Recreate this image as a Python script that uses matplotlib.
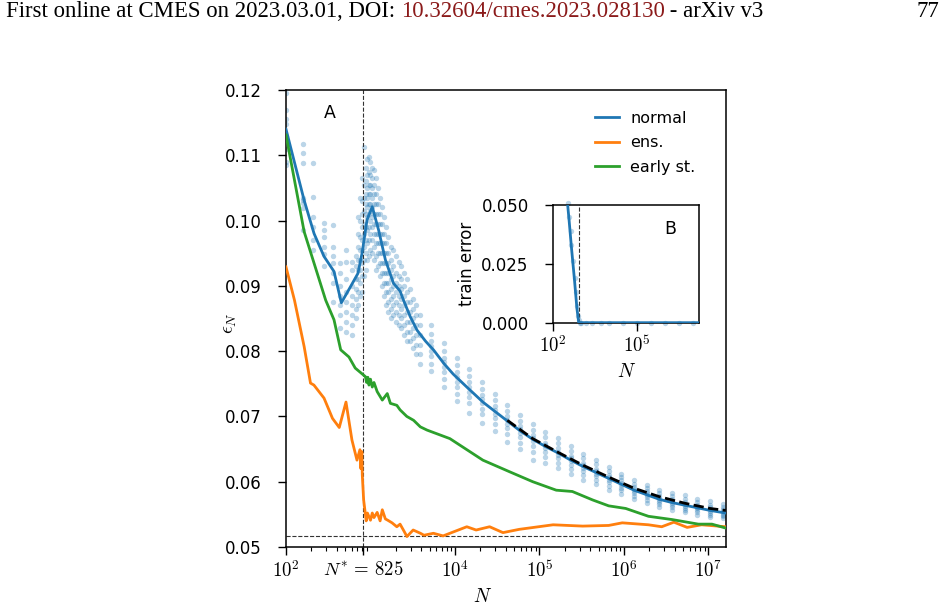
import numpy as np
import matplotlib
matplotlib.use("Agg")
import matplotlib.pyplot as plt
import matplotlib.ticker as mticker

plt.rcParams.update({
    "font.family": "DejaVu Sans",
    "mathtext.fontset": "cm",
    "font.size": 12,
    "axes.linewidth": 1.1,
    "xtick.major.size": 5.5,
    "ytick.major.size": 5.5,
    "xtick.minor.size": 3.2,
    "xtick.major.width": 1.0,
    "ytick.major.width": 1.0,
    "xtick.minor.width": 0.8,
    "xtick.labelsize": 13.5,
    "ytick.labelsize": 12,
})

# ---- data ----
n_star = 825
eps_floor = 0.0517

normal_N = [100, 164, 215, 282, 370, 452, 582, 710, 795, 910, 1050, 1250, 1500,
            1870, 2240, 2460, 2950, 3560, 4500, 5560, 7400, 9500, 13800, 21400,
            29500, 41700, 58900, 83200, 117500, 166000, 234400, 331100, 467700,
            660700, 933300, 1318000, 1862000, 2630000, 3715000, 5248000,
            7413000, 10470000, 16000000]
normal_eps = [0.1140, 0.1031, 0.0980, 0.0945, 0.0922, 0.0874, 0.0899, 0.0919,
              0.0950, 0.1001, 0.1021, 0.0985, 0.0940, 0.0904, 0.0892, 0.0878,
              0.0853, 0.0832, 0.0815, 0.0802, 0.0781, 0.0765, 0.0745, 0.0722,
              0.0708, 0.0693, 0.0678, 0.0665, 0.0654, 0.0644, 0.0633, 0.0623,
              0.0614, 0.0605, 0.0596, 0.0587, 0.0580, 0.0573, 0.0568, 0.0564,
              0.0560, 0.0556, 0.0552]

fit_N = [41700, 83200, 166000, 331100, 660700, 1318000, 2630000, 5248000,
         10470000, 16000000]
fit_eps = [0.0694, 0.0666, 0.0645, 0.0625, 0.0607, 0.0590, 0.0577, 0.0567,
           0.0559, 0.0556]

ens_N = [100, 126, 164, 195, 214, 282, 355, 427, 513, 603, 692, 750, 770, 790,
         800, 830, 890, 920, 1000, 1050, 1100, 1200, 1300, 1380, 1500, 1600,
         1800, 2050, 2240, 2500, 2700, 3200, 3900, 4300, 5560, 7240, 13800,
         17800, 25700, 37000, 57500, 145000, 324000, 660000, 955000, 1950000,
         2800000, 3900000, 5600000, 8300000, 16000000]
ens_eps = [0.0929, 0.0878, 0.0807, 0.0751, 0.0748, 0.0728, 0.0697, 0.0683,
           0.0722, 0.0664, 0.0633, 0.0649, 0.0620, 0.0646, 0.0610, 0.0572,
           0.0540, 0.0552, 0.0541, 0.0552, 0.0545, 0.0553, 0.0540, 0.0557,
           0.0543, 0.0541, 0.0537, 0.0531, 0.0535, 0.0524, 0.0516, 0.0526,
           0.0521, 0.0518, 0.0521, 0.0517, 0.0531, 0.0526, 0.0531, 0.0522,
           0.0527, 0.0534, 0.0532, 0.0533, 0.0537, 0.0534, 0.0531, 0.0538,
           0.0530, 0.0534, 0.0531]

early_N = [100, 164, 295, 370, 444, 556, 660, 870, 900, 930, 960, 1000, 1050,
           1100, 1200, 1380, 1580, 1720, 2050, 2240, 2690, 3240, 3890, 4680,
           8700, 21400, 44700, 83200, 158000, 245000, 427000, 660000, 1050000,
           1950000, 3720000, 7600000, 11000000, 16000000]
early_eps = [0.1131, 0.0983, 0.0878, 0.0848, 0.0802, 0.0791, 0.0774, 0.0761,
             0.0752, 0.0760, 0.0748, 0.0757, 0.0745, 0.0752, 0.0738, 0.0725,
             0.0735, 0.0720, 0.0717, 0.0710, 0.0700, 0.0694, 0.0684, 0.0679,
             0.0666, 0.0633, 0.0615, 0.0600, 0.0587, 0.0585, 0.0572, 0.0563,
             0.0559, 0.0547, 0.0542, 0.0535, 0.0535, 0.0529]

# individual runs (blue dots), one column per N
runs_N = [100, 160, 210, 280, 360, 440, 520, 600, 680, 720, 760, 800, 840, 880,
          920, 960, 1000, 1050, 1100, 1160, 1220, 1290, 1360, 1440, 1530, 1630,
          1740, 1860, 2000, 2150, 2320, 2500, 2700, 2950, 3200, 3500, 3850,
          5250, 7400, 10500, 14800, 20900, 29500, 41700, 58900, 83200, 117500,
          166000, 234400, 331100, 467700, 660700, 933300, 1318000, 1862000,
          2630000, 3715000, 5248000, 7413000, 10470000, 14790000]
runs_eps = [
    [0.1195, 0.1170, 0.1155, 0.1148, 0.1130, 0.1110, 0.1090, 0.1085],
    [0.1118, 0.1103, 0.1088, 0.1034, 0.1031, 0.1027, 0.1019, 0.0985],
    [0.1088, 0.1036, 0.1005, 0.0990, 0.0970, 0.0955],
    [0.0996, 0.0985, 0.0975, 0.0960, 0.0948, 0.0930],
    [0.0993, 0.0960, 0.0945, 0.0935, 0.0920, 0.0905, 0.0875],
    [0.0935, 0.0920, 0.0900, 0.0885, 0.0870, 0.0855, 0.0835],
    [0.0955, 0.0937, 0.0910, 0.0890, 0.0875, 0.0860, 0.0845, 0.0830],
    [0.0937, 0.0925, 0.0900, 0.0885, 0.0870, 0.0855, 0.0840, 0.0825],
    [0.0945, 0.0930, 0.0910, 0.0895, 0.0880, 0.0865, 0.0850],
    [0.1005, 0.0980, 0.0960, 0.0940, 0.0925, 0.0910, 0.0890, 0.0870],
    [0.1035, 0.1000, 0.0975, 0.0955, 0.0940, 0.0925, 0.0905, 0.0885],
    [0.1065, 0.1030, 0.1010, 0.0990, 0.0970, 0.0955, 0.0935, 0.0915, 0.0890],
    [0.1113, 0.1055, 0.1035, 0.1015, 0.0995, 0.0980, 0.0960, 0.0940, 0.0915],
    [0.1080, 0.1060, 0.1040, 0.1025, 0.1010, 0.0990, 0.0970, 0.0950, 0.0925],
    [0.1095, 0.1070, 0.1050, 0.1035, 0.1020, 0.1005, 0.0985, 0.0965, 0.0940],
    [0.1098, 0.1075, 0.1055, 0.1040, 0.1025, 0.1010, 0.0990, 0.0970, 0.0945],
    [0.1090, 0.1070, 0.1055, 0.1040, 0.1025, 0.1015, 0.1000, 0.0980, 0.0955],
    [0.1080, 0.1065, 0.1050, 0.1035, 0.1020, 0.1005, 0.0990, 0.0970, 0.0950],
    [0.1077, 0.1055, 0.1040, 0.1025, 0.1010, 0.0995, 0.0980, 0.0960, 0.0940],
    [0.1065, 0.1040, 0.1025, 0.1010, 0.0995, 0.0980, 0.0965, 0.0945, 0.0925],
    [0.1050, 0.1025, 0.1010, 0.0995, 0.0980, 0.0965, 0.0950, 0.0930],
    [0.1035, 0.1010, 0.0995, 0.0980, 0.0965, 0.0950, 0.0935, 0.0915],
    [0.1020, 0.0995, 0.0980, 0.0965, 0.0950, 0.0935, 0.0920, 0.0900],
    [0.1005, 0.0980, 0.0965, 0.0950, 0.0935, 0.0920, 0.0905, 0.0885],
    [0.0990, 0.0965, 0.0950, 0.0935, 0.0920, 0.0905, 0.0890, 0.0870],
    [0.0975, 0.0950, 0.0935, 0.0920, 0.0905, 0.0890, 0.0875, 0.0860],
    [0.0960, 0.0940, 0.0925, 0.0910, 0.0895, 0.0880, 0.0865, 0.0850],
    [0.0955, 0.0930, 0.0915, 0.0900, 0.0885, 0.0870, 0.0855],
    [0.0945, 0.0920, 0.0905, 0.0890, 0.0875, 0.0860, 0.0845],
    [0.0937, 0.0915, 0.0900, 0.0885, 0.0870, 0.0855, 0.0840],
    [0.0930, 0.0910, 0.0895, 0.0880, 0.0865, 0.0850, 0.0835],
    [0.0920, 0.0900, 0.0885, 0.0870, 0.0855, 0.0840, 0.0825],
    [0.0910, 0.0890, 0.0875, 0.0860, 0.0845, 0.0830, 0.0815],
    [0.0895, 0.0875, 0.0860, 0.0845, 0.0830, 0.0815],
    [0.0880, 0.0865, 0.0850, 0.0835, 0.0820, 0.0805],
    [0.0870, 0.0855, 0.0840, 0.0825, 0.0810, 0.0795],
    [0.0855, 0.0840, 0.0825, 0.0810, 0.0795, 0.0780],
    [0.0840, 0.0826, 0.0815, 0.0808, 0.0800, 0.0792, 0.0781, 0.0770],
    [0.0812, 0.0800, 0.0790, 0.0784, 0.0776, 0.0768, 0.0757, 0.0745],
    [0.0790, 0.0778, 0.0768, 0.0761, 0.0753, 0.0745, 0.0735, 0.0724],
    [0.0772, 0.0762, 0.0752, 0.0745, 0.0738, 0.0730, 0.0720, 0.0705],
    [0.0752, 0.0742, 0.0733, 0.0726, 0.0720, 0.0712, 0.0703, 0.0690],
    [0.0735, 0.0725, 0.0716, 0.0710, 0.0703, 0.0697, 0.0688, 0.0678],
    [0.0718, 0.0709, 0.0701, 0.0695, 0.0689, 0.0682, 0.0673, 0.0661],
    [0.0702, 0.0693, 0.0685, 0.0680, 0.0674, 0.0668, 0.0660, 0.0650],
    [0.0688, 0.0679, 0.0672, 0.0667, 0.0662, 0.0655, 0.0646, 0.0633],
    [0.0676, 0.0668, 0.0660, 0.0656, 0.0651, 0.0645, 0.0638, 0.0629],
    [0.0667, 0.0659, 0.0651, 0.0646, 0.0641, 0.0636, 0.0629, 0.0621],
    [0.0655, 0.0647, 0.0640, 0.0636, 0.0631, 0.0626, 0.0620, 0.0612],
    [0.0642, 0.0636, 0.0629, 0.0625, 0.0621, 0.0617, 0.0611, 0.0603],
    [0.0633, 0.0627, 0.0620, 0.0616, 0.0612, 0.0608, 0.0603, 0.0597],
    [0.0622, 0.0616, 0.0611, 0.0607, 0.0603, 0.0599, 0.0594, 0.0587],
    [0.0612, 0.0607, 0.0602, 0.0598, 0.0595, 0.0591, 0.0587, 0.0581],
    [0.0603, 0.0597, 0.0592, 0.0589, 0.0586, 0.0582, 0.0578, 0.0573],
    [0.0595, 0.0590, 0.0585, 0.0582, 0.0579, 0.0576, 0.0572, 0.0567],
    [0.0588, 0.0583, 0.0578, 0.0575, 0.0572, 0.0569, 0.0566, 0.0561],
    [0.0583, 0.0578, 0.0573, 0.0570, 0.0567, 0.0564, 0.0561, 0.0557],
    [0.0579, 0.0574, 0.0569, 0.0566, 0.0563, 0.0560, 0.0557, 0.0553],
    [0.0574, 0.0569, 0.0565, 0.0562, 0.0559, 0.0556, 0.0553, 0.0549],
    [0.0570, 0.0565, 0.0561, 0.0558, 0.0555, 0.0552, 0.0549, 0.0546],
    [0.0566, 0.0562, 0.0558, 0.0555, 0.0552, 0.0549, 0.0547, 0.0544],
]

# inset: training error
train_N = [100, 160, 215, 282, 370, 452, 582, 710, 825, 1000, 3000, 1e4, 1e5,
           1e6, 1.6e7]
train_err = [0.118, 0.092, 0.075, 0.059, 0.044, 0.032, 0.018, 0.006, 0.0, 0.0,
             0.0, 0.0, 0.0, 0.0, 0.0]
train_runs_N = [330, 370, 420, 452, 520, 582, 650, 710, 780, 825, 900, 1000,
                1500, 2500, 5000, 1e4, 3e4, 1e5, 3e5, 1e6, 3e6, 1e7]
train_runs_err = [0.051, 0.045, 0.039, 0.033, 0.026, 0.019, 0.013, 0.007,
                  0.003, 0.001, 0.0, 0.0, 0.0, 0.0, 0.0, 0.0, 0.0, 0.0, 0.0,
                  0.0, 0.0, 0.0]

blue, orange, green = "#1f77b4", "#ff7f0e", "#2ca02c"

fig = plt.figure(figsize=(9.47, 6.10), dpi=100)

# ---- page header ----
hdr_font = dict(family="Liberation Serif", size=16.4)
t1 = fig.text(0.006, 0.972, "First online at CMES on 2023.03.01, DOI: ",
              color="black", va="baseline", **hdr_font)
fig.canvas.draw()
r = fig.canvas.get_renderer()
x1 = t1.get_window_extent(r).x1 / fig.bbox.width
t2 = fig.text(x1, 0.972, "10.32604/cmes.2023.028130", color="#8b1a1a",
              va="baseline", **hdr_font)
fig.canvas.draw()
x2 = t2.get_window_extent(r).x1 / fig.bbox.width
fig.text(x2, 0.972, " - arXiv v3", color="black", va="baseline", **hdr_font)
fig.text(0.992, 0.972, "77", color="black", va="baseline", ha="right",
         **hdr_font)

# ---- main axes ----
ax = fig.add_axes([0.302, 0.1033, 0.4643, 0.7492])
for n, vals in zip(runs_N, runs_eps):
    ax.scatter([n] * len(vals), vals, s=15, color=blue, alpha=0.3,
               linewidths=0, zorder=1)
l_norm, = ax.plot(normal_N, normal_eps, color=blue, lw=2, label="normal",
                  zorder=3)
l_ens, = ax.plot(ens_N, ens_eps, color=orange, lw=2, label="ens.", zorder=3)
l_early, = ax.plot(early_N, early_eps, color=green, lw=2, label="early st.",
                   zorder=3)
ax.plot(fit_N, fit_eps, color="black", lw=2, ls="--", zorder=4)
ax.axvline(n_star, color="#333333", lw=0.8, ls="--", zorder=2)
ax.axhline(eps_floor, color="#333333", lw=0.8, ls="--", zorder=2)

ax.set_xscale("log")
ax.set_xlim(100, 1.6e7)
ax.set_ylim(0.05, 0.12)
ax.set_xticks([1e2, n_star, 1e4, 1e5, 1e6, 1e7])
ax.set_xticklabels([r"$10^2$", r"$N^{*}\,=\,825$", r"$10^4$", r"$10^5$",
                    r"$10^6$", r"$10^7$"])
ax.xaxis.set_minor_locator(mticker.LogLocator(base=10, subs=np.arange(2, 10),
                                              numticks=20))
ax.xaxis.set_minor_formatter(mticker.NullFormatter())
ax.set_yticks(np.arange(0.05, 0.1201, 0.01))
ax.yaxis.set_major_formatter(mticker.FormatStrFormatter("%.2f"))
ax.tick_params(axis="y", pad=12)
ax.tick_params(axis="x", pad=4)
ax.set_xlabel(r"$N$", fontsize=14)
ax.xaxis.set_label_coords(0.448, -0.088)
ax.set_ylabel(r"$\epsilon_N$", fontsize=14)
ax.yaxis.set_label_coords(-0.106, 0.49)
ax.text(0.10, 0.95, "A", transform=ax.transAxes, fontsize=12.5,
        ha="center", va="center")
ax.legend(handles=[l_norm, l_ens, l_early], loc="upper left",
          bbox_to_anchor=(0.703, 0.955), frameon=False, fontsize=11.5,
          handlelength=1.5, handletextpad=0.7, labelspacing=0.6,
          borderpad=0, borderaxespad=0)

# ---- inset ----
axi = fig.add_axes([0.584, 0.471, 0.1542, 0.193])
axi.scatter(train_runs_N, train_runs_err, s=15, color=blue, alpha=0.3,
            linewidths=0, zorder=1, clip_on=False)
axi.plot(train_N, train_err, color=blue, lw=2, zorder=3)
axi.axvline(n_star, color="#333333", lw=0.8, ls="--", zorder=2)
axi.set_xscale("log")
axi.set_xlim(100, 1.6e7)
axi.set_ylim(0, 0.05)
axi.set_xticks([1e2, 1e5])
axi.set_xticklabels([r"$10^2$", r"$10^5$"])
axi.xaxis.set_minor_locator(mticker.NullLocator())
axi.set_yticks([0, 0.025, 0.05])
axi.yaxis.set_major_formatter(mticker.FormatStrFormatter("%.3f"))
axi.tick_params(axis="y", pad=12)
axi.set_xlabel(r"$N$", fontsize=14, labelpad=4)
axi.set_ylabel("train error", fontsize=12, labelpad=4)
axi.text(0.80, 0.80, "B", transform=axi.transAxes, fontsize=12.5,
         ha="center", va="center")

fig.savefig("out.png", dpi=100)
